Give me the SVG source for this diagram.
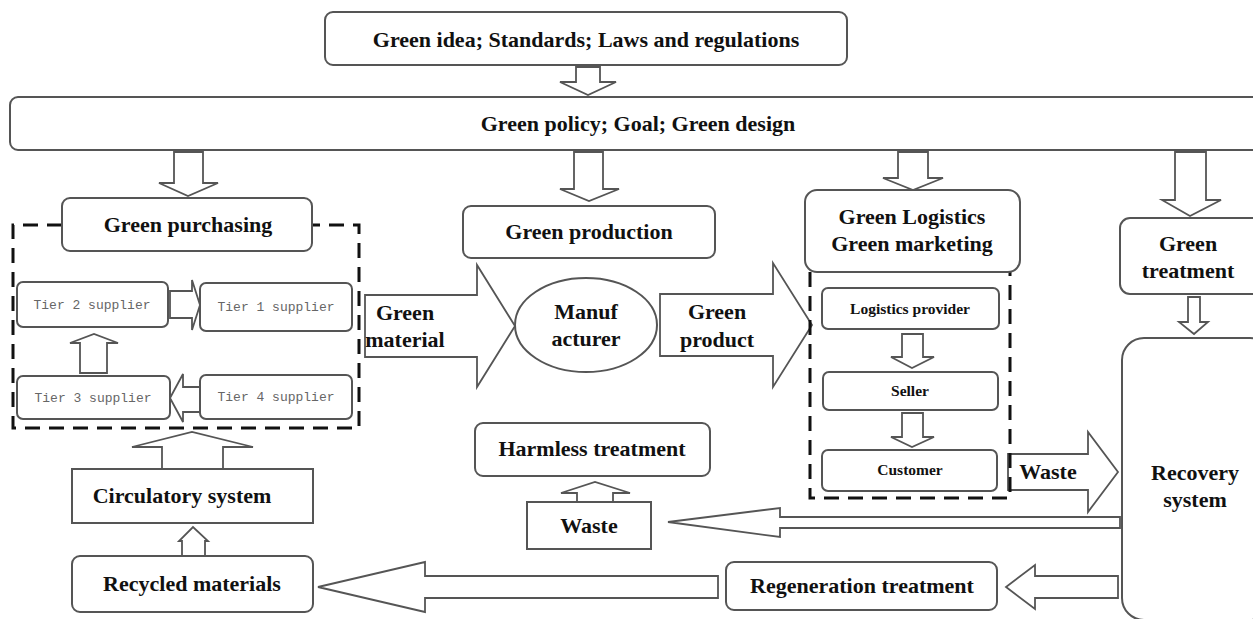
<svg xmlns="http://www.w3.org/2000/svg" width="1253" height="619" viewBox="0 0 1253 619">
<style>
.box{fill:#fff;stroke:#555;stroke-width:2}
.arr{fill:#fff;stroke:#555;stroke-width:1.8;stroke-linejoin:miter}
.dash{fill:none;stroke:#111;stroke-width:3;stroke-dasharray:15 9}
.t{font-family:"Liberation Serif","Times New Roman",serif;font-weight:bold;fill:#111;text-anchor:middle}
.l{font-size:22px}
.s{font-size:15.5px}
.m{font-family:"Liberation Mono","Courier New",monospace;font-size:13px;fill:#666;text-anchor:middle}
</style>
<rect width="1253" height="619" fill="#fff"/>

<g id="connectors">
  <polygon class="arr" points="576,67 600,67 600,82 616,82 588,95 560,82 576,82"/>
  <polygon class="arr" points="174,152 203,152 203,183 218,183 188,196 159,183 174,183"/>
  <polygon class="arr" points="574,152 603,152 603,189 619,189 589,201 560,189 574,189"/>
  <polygon class="arr" points="898,152 928,152 928,178 943,178 913,190 883,178 898,178"/>
  <polygon class="arr" points="1175,152 1206,152 1206,200 1221,200 1190,216 1162,200 1175,200"/>
  <polygon class="arr" points="170,291 192,291 192,280 200,305 192,330 192,318 170,318"/>
  <polygon class="arr" points="80,373 80,343 70,343 94,334 118,343 107,343 107,373"/>
  <polygon class="arr" points="200,387 183,387 183,374 170,398 183,422 183,412 200,412"/>
  <polygon class="arr" points="365,295 477,295 477,265 515,326 477,387 477,357 365,357"/>
  <polygon class="arr" points="660,294 773,294 773,263 812,325 773,387 773,356 660,356"/>
  <polygon class="arr" points="902,334 923,334 923,357 934,357 912,368 891,357 902,357"/>
  <polygon class="arr" points="902,413 923,413 923,437 934,437 912,447 891,437 902,437"/>
  <polygon class="arr" points="1008,454 1088,454 1088,432 1118,472 1088,512 1088,490 1008,490"/>
  <polygon class="arr" points="1188,297 1200,297 1200,322 1208,322 1194,334 1179,322 1188,322"/>
  <polygon class="arr" points="577,502 577,493 561,493 595,482 630,493 613,493 613,502"/>
  <polygon class="arr" points="1120,517 780,517 780,508 668,522 780,537 780,528 1120,528"/>
  <polygon class="arr" points="1118,576 1035,576 1035,565 1006,587 1035,609 1035,598 1118,598"/>
  <polygon class="arr" points="718,576 425,576 425,562 318,587 425,612 425,598 718,598"/>
  <polygon class="arr" points="162,469 162,447 132,447 192,432 253,447 223,447 223,469"/>
  <polygon class="arr" points="182,556 182,541 179,541 193,527 208,541 205,541 205,556"/>
</g>

<g id="n-top"><rect class="box" x="325" y="12" width="522" height="53" rx="8"/>
<text class="t l" x="586" y="47">Green idea; Standards; Laws and regulations</text></g>
<g id="n-policy"><rect class="box" x="10" y="97" width="1260" height="53" rx="8"/>
<text class="t l" x="638" y="131">Green policy; Goal; Green design</text></g>

<g id="purchasing-group">
  <path class="dash" d="M62,225 H13 V428 H359 V225 H312"/>
</g>
<g id="n-purchasing"><rect class="box" x="62" y="198" width="250" height="53" rx="8"/>
<text class="t l" x="188" y="232">Green purchasing</text></g>
<g id="n-tier2"><rect class="box" x="17" y="282" width="151" height="45" rx="6"/><text class="m" x="92" y="309">Tier 2 supplier</text></g>
<g id="n-tier1"><rect class="box" x="200" y="283" width="152" height="48" rx="6"/><text class="m" x="276" y="311">Tier 1 supplier</text></g>
<g id="n-tier3"><rect class="box" x="17" y="376" width="153" height="43" rx="6"/><text class="m" x="93" y="402">Tier 3 supplier</text></g>
<g id="n-tier4"><rect class="box" x="200" y="375" width="152" height="44" rx="6"/><text class="m" x="276" y="401">Tier 4 supplier</text></g>

<g id="n-material"><text class="t l" x="405" y="320">Green</text><text class="t l" x="405" y="347">material</text></g>
<g id="n-manufacturer"><ellipse class="box" cx="586" cy="325" rx="71" ry="47"/>
<text class="t l" x="586" y="319">Manuf</text><text class="t l" x="586" y="346">acturer</text></g>
<g id="n-product"><text class="t l" x="717" y="319">Green</text><text class="t l" x="717" y="347">product</text></g>
<g id="n-production"><rect class="box" x="463" y="206" width="252" height="52" rx="8"/>
<text class="t l" x="589" y="239">Green production</text></g>

<g id="logistics-group"><path class="dash" d="M810,272 V498 H1010 V272"/></g>
<g id="n-logistics"><rect class="box" x="805" y="190" width="215" height="82" rx="12"/>
<text class="t l" x="912" y="224">Green Logistics</text><text class="t l" x="912" y="251">Green marketing</text></g>
<g id="n-provider"><rect class="box" x="822" y="288" width="177" height="41" rx="6"/><text class="t s" x="910" y="314">Logistics provider</text></g>
<g id="n-seller"><rect class="box" x="823" y="372" width="175" height="38" rx="6"/><text class="t s" x="910" y="396">Seller</text></g>
<g id="n-customer"><rect class="box" x="822" y="450" width="175" height="41" rx="6"/><text class="t s" x="910" y="475">Customer</text></g>
<g id="n-waste1"><text class="t l" x="1048" y="479">Waste</text></g>

<g id="n-gtreat"><rect class="box" x="1120" y="218" width="145" height="76" rx="10"/>
<text class="t l" x="1188" y="251">Green</text><text class="t l" x="1188" y="278">treatment</text></g>
<g id="n-recovery"><rect class="box" x="1122" y="338" width="150" height="282" rx="22"/>
<text class="t l" x="1195" y="480">Recovery</text><text class="t l" x="1195" y="507">system</text></g>

<g id="n-harmless"><rect class="box" x="475" y="423" width="235" height="53" rx="8"/>
<text class="t l" x="592" y="456">Harmless treatment</text></g>
<g id="n-waste2"><rect class="box" x="527" y="502" width="124" height="47"/>
<text class="t l" x="589" y="533">Waste</text></g>
<g id="n-regen"><rect class="box" x="726" y="562" width="271" height="48" rx="8"/>
<text class="t l" x="862" y="593">Regeneration treatment</text></g>
<g id="n-circ"><rect class="box" x="72" y="469" width="241" height="54"/>
<text class="t l" x="182" y="503">Circulatory system</text></g>
<g id="n-recycled"><rect class="box" x="72" y="556" width="241" height="56" rx="8"/>
<text class="t l" x="192" y="591">Recycled materials</text></g>
</svg>
